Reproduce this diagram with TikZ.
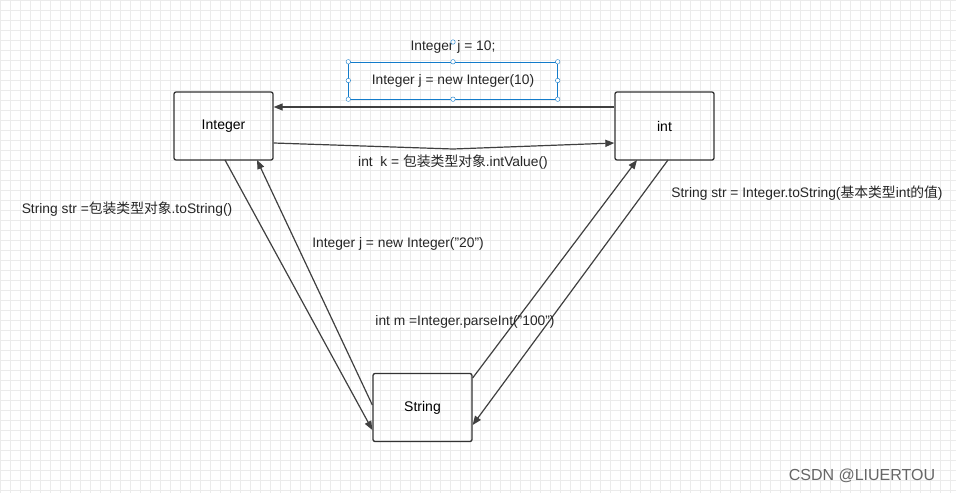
\documentclass[tikz,border=0pt]{standalone}
\usepackage{fontspec}
\setmainfont{Liberation Sans}
\newfontfamily\cjk{Noto Sans CJK SC}
\usetikzlibrary{arrows.meta}
\begin{document}
\begin{tikzpicture}[x=1pt,y=-1pt,
  box/.style={draw=black!80,line width=1.3pt,rounded corners=2pt,minimum width=99pt,minimum height=68pt,font=\fontsize{14}{16}\selectfont},
  lab/.style={font=\fontsize{13.8}{16}\selectfont,text=black!85},
  conn/.style={draw=black!75,line width=1.2pt,-{Triangle[length=9pt,width=7pt]}},
  handle/.style={circle,draw=cyan!60!blue,fill=white,inner sep=1.6pt}]
\fill[white] (0,0) rectangle (956,493);
\useasboundingbox (0,0) rectangle (956,493);
\foreach \i in {0,10,...,950} \draw[black!8] (\i,0) -- (\i,493);
\foreach \i in {0,10,...,490} \draw[black!8] (0,\i) -- (956,\i);
\node[box] (Int) at (223.5,126) {Integer};
\node[box] (ii) at (664.5,126) {int};
\node[box] (S) at (422.5,407.5) {String};
\coordinate (m) at (453,149);
\draw[conn] (ii.west|-0,107) -- (Int.east|-0,107);
\draw[conn] (Int.east|-0,143) -- (m) -- (ii.west|-0,143);
\draw[conn] (225,160) -- (S.west|-0,430);
\draw[conn] (S.west|-0,405) -- (257,160);
\draw[conn] (S.east|-0,378) -- (637,160);
\draw[conn] (668,160) -- (S.east|-0,425);
\node[lab] (t1) at (453,47) {Integer j = 10;};
\node[lab,draw=cyan!60!blue,minimum width=209pt,minimum height=37pt] (t2) at (453,80.5) {Integer j = new Integer(10)};
\foreach \p in {north west,north,north east,east,south east,south,south west,west} \node[handle] at (t2.\p) {};
\node[handle] (h) at (453,42) {};
\node[lab] (t3) at (453,162) {int\ \ k = {\cjk 包装类型对象}.intValue()};
\node[lab] (t4) at (127,209) {String str ={\cjk 包装类型对象}.toString()};
\node[lab] (t5) at (807,193) {String str = Integer.toString({\cjk 基本类型}int{\cjk 的值})};
\node[lab] (t6) at (398,244) {Integer j = new Integer("20")};
\node[lab] (t7) at (465,322) {int m =Integer.parseInt("100")};
\node[font=\fontsize{16}{18}\selectfont,text=black!60] (wm) at (862,476) {CSDN @LIUERTOU};
\end{tikzpicture}
\end{document}
